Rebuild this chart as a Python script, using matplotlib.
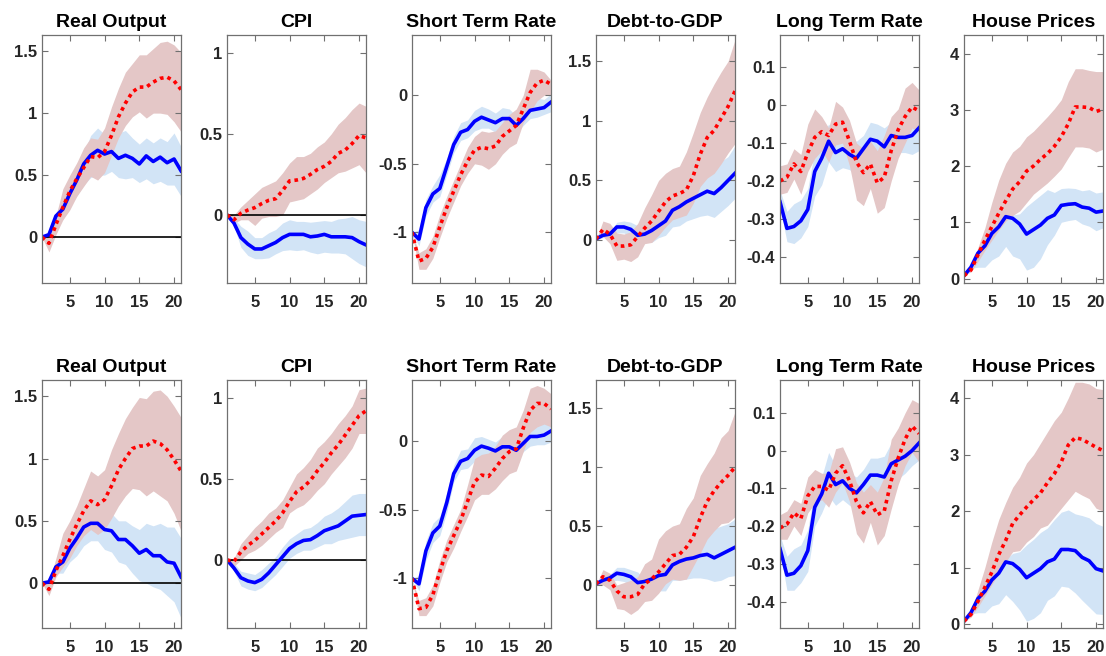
import matplotlib
matplotlib.use("Agg")
import matplotlib.pyplot as plt
from matplotlib.ticker import FormatStrFormatter

plt.rcParams["font.family"] = ["Liberation Sans", "DejaVu Sans"]
plt.rcParams["font.weight"] = "bold"
plt.rcParams["axes.unicode_minus"] = False

HORIZON = list(range(1, 22))
TITLES = ["Real Output", "CPI", "Short Term Rate", "Debt-to-GDP", "Long Term Rate", "House Prices"]

# ---- top row ----
out_a_blue = [0, 0.02, 0.17, 0.225, 0.35, 0.46, 0.59, 0.66, 0.70, 0.67, 0.69, 0.635, 0.66, 0.635, 0.59, 0.655, 0.61, 0.645, 0.60, 0.63, 0.535]
out_a_blue_lo = [0, -0.02, 0.10, 0.14, 0.25, 0.33, 0.42, 0.48, 0.50, 0.50, 0.53, 0.48, 0.47, 0.48, 0.44, 0.47, 0.43, 0.45, 0.42, 0.42, 0.33]
out_a_blue_hi = [0, 0.03, 0.20, 0.29, 0.42, 0.55, 0.68, 0.82, 0.88, 0.83, 0.86, 0.84, 0.86, 0.80, 0.75, 0.80, 0.76, 0.80, 0.77, 0.84, 0.73]
out_a_red = [0, -0.05, 0.10, 0.24, 0.37, 0.47, 0.56, 0.65, 0.64, 0.69, 0.82, 0.97, 1.08, 1.17, 1.21, 1.21, 1.25, 1.28, 1.29, 1.26, 1.19]
out_a_red_lo = [0, -0.12, 0.02, 0.14, 0.22, 0.33, 0.41, 0.49, 0.46, 0.52, 0.66, 0.80, 0.90, 0.97, 1.01, 0.96, 1.00, 1.00, 0.99, 0.93, 0.85]
out_a_red_hi = [0, 0.0, 0.17, 0.39, 0.50, 0.60, 0.72, 0.80, 0.79, 0.88, 1.05, 1.20, 1.33, 1.40, 1.47, 1.47, 1.52, 1.57, 1.58, 1.55, 1.49]

cpi_a_blue = [0, -0.05, -0.14, -0.18, -0.21, -0.21, -0.19, -0.17, -0.14, -0.12, -0.12, -0.12, -0.135, -0.13, -0.12, -0.135, -0.135, -0.135, -0.14, -0.165, -0.185]
cpi_a_blue_lo = [0, -0.07, -0.20, -0.25, -0.27, -0.27, -0.265, -0.24, -0.22, -0.215, -0.22, -0.215, -0.23, -0.24, -0.23, -0.235, -0.235, -0.24, -0.27, -0.30, -0.32]
cpi_a_blue_hi = [0, -0.02, -0.07, -0.10, -0.14, -0.14, -0.11, -0.09, -0.05, -0.03, -0.04, -0.04, -0.045, -0.04, -0.035, -0.04, -0.025, -0.02, -0.01, -0.03, -0.04]
cpi_a_red = [0, -0.03, 0.01, 0.03, 0.045, 0.07, 0.09, 0.10, 0.15, 0.21, 0.215, 0.225, 0.25, 0.28, 0.30, 0.33, 0.38, 0.40, 0.44, 0.49, 0.475]
cpi_a_red_lo = [0, -0.05, -0.03, -0.03, -0.065, -0.02, -0.01, -0.01, 0.0, 0.08, 0.09, 0.10, 0.13, 0.16, 0.20, 0.23, 0.26, 0.27, 0.29, 0.31, 0.26]
cpi_a_red_hi = [0, 0.0, 0.05, 0.09, 0.13, 0.17, 0.19, 0.21, 0.26, 0.32, 0.36, 0.36, 0.38, 0.42, 0.45, 0.50, 0.56, 0.60, 0.65, 0.69, 0.67]

srate_a_blue = [-1.0, -1.05, -0.82, -0.72, -0.68, -0.52, -0.36, -0.27, -0.25, -0.19, -0.16, -0.18, -0.20, -0.17, -0.17, -0.22, -0.17, -0.11, -0.10, -0.09, -0.05]
srate_a_blue_lo = [-1.0, -1.10, -0.88, -0.78, -0.74, -0.58, -0.42, -0.33, -0.31, -0.26, -0.24, -0.24, -0.27, -0.25, -0.24, -0.28, -0.22, -0.17, -0.16, -0.14, -0.12]
srate_a_blue_hi = [-1.0, -0.98, -0.76, -0.66, -0.58, -0.46, -0.30, -0.20, -0.18, -0.11, -0.08, -0.10, -0.13, -0.09, -0.10, -0.15, -0.12, -0.03, -0.02, -0.03, 0.01]
srate_a_red = [-1.0, -1.21, -1.19, -1.11, -0.96, -0.82, -0.70, -0.58, -0.48, -0.40, -0.38, -0.39, -0.37, -0.30, -0.26, -0.22, -0.10, 0.02, 0.09, 0.11, 0.08]
srate_a_red_lo = [-1.0, -1.27, -1.27, -1.19, -1.04, -0.90, -0.78, -0.66, -0.57, -0.50, -0.51, -0.54, -0.50, -0.43, -0.38, -0.35, -0.20, -0.12, -0.04, 0.0, 0.0]
srate_a_red_hi = [-1.0, -1.15, -1.12, -1.03, -0.87, -0.74, -0.62, -0.50, -0.38, -0.30, -0.26, -0.27, -0.26, -0.20, -0.14, -0.10, 0.0, 0.19, 0.19, 0.17, 0.11]

debt_a_blue = [0.01, 0.04, 0.05, 0.11, 0.11, 0.09, 0.04, 0.05, 0.08, 0.12, 0.16, 0.25, 0.28, 0.32, 0.35, 0.38, 0.41, 0.39, 0.44, 0.50, 0.56]
debt_a_blue_lo = [0, 0.02, 0.04, 0.06, 0.06, 0.03, 0.0, -0.02, -0.02, 0.02, 0.04, 0.11, 0.12, 0.16, 0.18, 0.20, 0.21, 0.19, 0.24, 0.29, 0.35]
debt_a_blue_hi = [0, 0.05, 0.06, 0.15, 0.16, 0.15, 0.12, 0.10, 0.18, 0.25, 0.30, 0.35, 0.40, 0.46, 0.51, 0.57, 0.60, 0.58, 0.66, 0.70, 0.79]
debt_a_red = [0.01, 0.09, 0.05, -0.05, -0.05, -0.04, 0.03, 0.10, 0.16, 0.24, 0.32, 0.37, 0.39, 0.42, 0.54, 0.72, 0.86, 0.92, 1.02, 1.12, 1.25]
debt_a_red_lo = [0, 0.03, -0.03, -0.17, -0.16, -0.18, -0.14, -0.03, -0.02, 0.04, 0.11, 0.17, 0.19, 0.21, 0.31, 0.45, 0.52, 0.56, 0.64, 0.73, 0.81]
debt_a_red_hi = [0, 0.16, 0.14, 0.06, 0.05, 0.07, 0.14, 0.27, 0.38, 0.50, 0.56, 0.60, 0.62, 0.74, 0.90, 1.07, 1.20, 1.31, 1.41, 1.50, 1.68]

ltr_a_blue = [-0.255, -0.325, -0.32, -0.305, -0.275, -0.175, -0.14, -0.095, -0.125, -0.115, -0.13, -0.14, -0.115, -0.09, -0.095, -0.11, -0.08, -0.085, -0.085, -0.08, -0.06]
ltr_a_blue_lo = [-0.27, -0.36, -0.365, -0.35, -0.32, -0.24, -0.21, -0.15, -0.175, -0.165, -0.17, -0.185, -0.16, -0.135, -0.125, -0.155, -0.13, -0.125, -0.125, -0.13, -0.12]
ltr_a_blue_hi = [-0.225, -0.28, -0.26, -0.25, -0.22, -0.12, -0.08, -0.05, -0.075, -0.07, -0.09, -0.095, -0.08, -0.045, -0.05, -0.06, -0.045, -0.045, -0.06, -0.055, -0.04]
ltr_a_red = [-0.20, -0.19, -0.155, -0.175, -0.125, -0.085, -0.07, -0.08, -0.05, -0.045, -0.095, -0.15, -0.178, -0.155, -0.205, -0.19, -0.12, -0.065, -0.03, -0.005, -0.015]
ltr_a_red_lo = [-0.235, -0.23, -0.195, -0.235, -0.175, -0.14, -0.12, -0.15, -0.105, -0.10, -0.16, -0.25, -0.265, -0.22, -0.285, -0.27, -0.20, -0.14, -0.10, -0.06, -0.07]
ltr_a_red_hi = [-0.16, -0.155, -0.115, -0.13, -0.05, -0.01, -0.03, -0.06, 0.01, -0.005, -0.04, -0.10, -0.115, -0.095, -0.12, -0.08, -0.03, -0.01, 0.045, 0.06, 0.04]

hp_a_blue = [0.05, 0.2, 0.45, 0.58, 0.8, 0.92, 1.1, 1.07, 0.97, 0.79, 0.87, 0.95, 1.07, 1.13, 1.30, 1.32, 1.33, 1.27, 1.25, 1.18, 1.2]
hp_a_blue_lo = [0.05, 0.18, 0.2, 0.2, 0.33, 0.4, 0.57, 0.4, 0.35, 0.15, 0.2, 0.35, 0.6, 0.77, 1.0, 1.03, 1.05, 0.97, 0.93, 0.85, 0.9]
hp_a_blue_hi = [0.05, 0.2, 0.5, 0.65, 0.85, 1.0, 1.15, 1.13, 1.15, 1.28, 1.38, 1.48, 1.58, 1.53, 1.6, 1.61, 1.6, 1.56, 1.58, 1.52, 1.54]
hp_a_red = [0.05, 0.15, 0.42, 0.68, 0.92, 1.16, 1.38, 1.59, 1.72, 1.91, 2.0, 2.12, 2.22, 2.35, 2.52, 2.75, 3.05, 3.05, 3.04, 2.97, 3.01]
hp_a_red_lo = [0.05, 0.12, 0.3, 0.5, 0.68, 0.86, 1.02, 1.12, 1.2, 1.35, 1.5, 1.6, 1.7, 1.82, 1.95, 2.15, 2.34, 2.34, 2.32, 2.25, 2.3]
hp_a_red_hi = [0.05, 0.2, 0.55, 0.9, 1.35, 1.75, 2.05, 2.25, 2.35, 2.52, 2.62, 2.75, 2.88, 3.02, 3.18, 3.5, 3.73, 3.73, 3.7, 3.68, 3.68]

# ---- bottom row ----
out_b_blue = [0, 0.01, 0.13, 0.17, 0.28, 0.36, 0.45, 0.48, 0.48, 0.43, 0.42, 0.35, 0.35, 0.30, 0.24, 0.27, 0.22, 0.22, 0.17, 0.16, 0.05]
out_b_blue_lo = [0, -0.01, 0.08, 0.08, 0.17, 0.22, 0.30, 0.34, 0.34, 0.27, 0.25, 0.17, 0.15, 0.08, 0.02, 0.0, -0.03, -0.05, -0.10, -0.15, -0.28]
out_b_blue_hi = [0, 0.02, 0.16, 0.24, 0.36, 0.44, 0.52, 0.57, 0.57, 0.53, 0.56, 0.50, 0.50, 0.46, 0.43, 0.48, 0.46, 0.48, 0.45, 0.45, 0.36]
out_b_red = [0, -0.05, 0.10, 0.22, 0.35, 0.47, 0.58, 0.66, 0.63, 0.67, 0.78, 0.91, 1.0, 1.08, 1.10, 1.10, 1.14, 1.12, 1.07, 0.99, 0.90]
out_b_red_lo = [0, -0.10, 0.05, 0.13, 0.20, 0.30, 0.38, 0.43, 0.39, 0.43, 0.52, 0.62, 0.70, 0.76, 0.75, 0.70, 0.74, 0.70, 0.66, 0.56, 0.42]
out_b_red_hi = [0, 0.0, 0.20, 0.40, 0.50, 0.62, 0.76, 0.90, 0.86, 0.91, 1.07, 1.20, 1.32, 1.41, 1.49, 1.48, 1.54, 1.55, 1.50, 1.42, 1.33]

cpi_b_blue = [0, -0.05, -0.11, -0.13, -0.14, -0.12, -0.08, -0.03, 0.02, 0.07, 0.10, 0.12, 0.125, 0.15, 0.18, 0.195, 0.21, 0.24, 0.27, 0.275, 0.28]
cpi_b_blue_lo = [0, -0.07, -0.16, -0.18, -0.19, -0.17, -0.13, -0.09, -0.04, 0.01, 0.04, 0.06, 0.06, 0.08, 0.10, 0.10, 0.12, 0.13, 0.14, 0.15, 0.15]
cpi_b_blue_hi = [0, -0.02, -0.07, -0.08, -0.09, -0.06, -0.02, 0.02, 0.08, 0.13, 0.16, 0.19, 0.20, 0.23, 0.27, 0.29, 0.32, 0.36, 0.40, 0.41, 0.41]
cpi_b_red = [0, -0.01, 0.05, 0.09, 0.12, 0.16, 0.20, 0.24, 0.29, 0.36, 0.42, 0.45, 0.49, 0.55, 0.60, 0.66, 0.71, 0.77, 0.83, 0.89, 0.92]
cpi_b_red_lo = [0, -0.04, 0.0, 0.04, 0.06, 0.09, 0.13, 0.17, 0.20, 0.29, 0.32, 0.34, 0.38, 0.43, 0.47, 0.53, 0.58, 0.63, 0.69, 0.78, 0.78]
cpi_b_red_hi = [0, 0.01, 0.10, 0.15, 0.20, 0.24, 0.29, 0.32, 0.37, 0.45, 0.53, 0.57, 0.62, 0.69, 0.73, 0.78, 0.84, 0.89, 0.95, 1.05, 1.06]

srate_b_blue = [-1.0, -1.04, -0.80, -0.67, -0.62, -0.45, -0.24, -0.15, -0.13, -0.07, -0.04, -0.055, -0.075, -0.045, -0.045, -0.07, -0.02, 0.03, 0.03, 0.04, 0.07]
srate_b_blue_lo = [-1.0, -1.09, -0.87, -0.74, -0.69, -0.52, -0.30, -0.21, -0.20, -0.15, -0.12, -0.12, -0.15, -0.12, -0.11, -0.14, -0.08, -0.04, -0.03, -0.03, -0.01]
srate_b_blue_hi = [-1.0, -0.98, -0.73, -0.60, -0.55, -0.38, -0.18, -0.07, -0.06, 0.02, 0.03, 0.01, -0.01, 0.03, 0.01, -0.02, 0.05, 0.12, 0.12, 0.15, 0.14]
srate_b_red = [-1.0, -1.22, -1.21, -1.12, -0.95, -0.80, -0.69, -0.58, -0.44, -0.30, -0.25, -0.26, -0.20, -0.13, -0.08, -0.06, 0.09, 0.22, 0.27, 0.27, 0.23]
srate_b_red_lo = [-1.0, -1.27, -1.27, -1.20, -1.03, -0.88, -0.78, -0.66, -0.55, -0.43, -0.39, -0.39, -0.35, -0.29, -0.24, -0.22, -0.08, 0.06, 0.10, 0.12, 0.10]
srate_b_red_hi = [-1.0, -1.16, -1.14, -1.05, -0.87, -0.72, -0.61, -0.50, -0.32, -0.13, -0.10, -0.09, -0.04, 0.04, 0.08, 0.10, 0.22, 0.38, 0.40, 0.38, 0.34]

debt_b_blue = [0.01, 0.04, 0.06, 0.10, 0.09, 0.07, 0.02, 0.03, 0.05, 0.08, 0.09, 0.17, 0.20, 0.22, 0.23, 0.25, 0.26, 0.23, 0.26, 0.29, 0.32]
debt_b_blue_lo = [0, 0.02, 0.03, 0.04, 0.03, 0.0, -0.02, -0.02, -0.02, -0.05, -0.05, 0.04, 0.04, 0.05, 0.06, 0.06, 0.05, 0.03, 0.04, 0.07, 0.08]
debt_b_blue_hi = [0, 0.05, 0.09, 0.15, 0.15, 0.13, 0.11, 0.05, 0.10, 0.15, 0.18, 0.25, 0.30, 0.32, 0.39, 0.46, 0.47, 0.48, 0.50, 0.52, 0.56]
debt_b_red = [0.01, 0.07, 0.04, -0.05, -0.10, -0.10, -0.08, 0.01, 0.05, 0.11, 0.18, 0.25, 0.26, 0.32, 0.41, 0.57, 0.71, 0.80, 0.87, 0.93, 1.0]
debt_b_red_lo = [0, 0.0, -0.04, -0.20, -0.21, -0.25, -0.21, -0.14, -0.13, -0.07, 0.01, 0.05, 0.04, 0.05, 0.16, 0.27, 0.39, 0.46, 0.52, 0.53, 0.58]
debt_b_red_hi = [0, 0.13, 0.10, 0.0, 0.02, 0.04, 0.07, 0.18, 0.22, 0.39, 0.46, 0.50, 0.52, 0.65, 0.74, 0.93, 1.03, 1.12, 1.25, 1.31, 1.47]

ltr_b_blue = [-0.26, -0.33, -0.325, -0.305, -0.265, -0.15, -0.115, -0.06, -0.09, -0.08, -0.10, -0.112, -0.09, -0.065, -0.065, -0.07, -0.035, -0.025, -0.015, 0.0, 0.02]
ltr_b_blue_lo = [-0.27, -0.37, -0.37, -0.35, -0.32, -0.20, -0.165, -0.12, -0.145, -0.13, -0.145, -0.16, -0.135, -0.11, -0.115, -0.125, -0.095, -0.075, -0.06, -0.04, -0.025]
ltr_b_blue_hi = [-0.225, -0.28, -0.26, -0.25, -0.21, -0.10, -0.07, -0.005, -0.04, -0.04, -0.06, -0.07, -0.05, -0.02, -0.02, -0.015, 0.02, 0.03, 0.045, 0.06, 0.09]
ltr_b_red = [-0.205, -0.195, -0.165, -0.18, -0.12, -0.095, -0.095, -0.105, -0.06, -0.04, -0.08, -0.135, -0.165, -0.135, -0.17, -0.16, -0.08, -0.02, 0.03, 0.065, 0.045]
ltr_b_red_lo = [-0.235, -0.235, -0.20, -0.225, -0.165, -0.14, -0.13, -0.15, -0.11, -0.085, -0.135, -0.22, -0.245, -0.19, -0.25, -0.225, -0.155, -0.09, -0.04, -0.005, -0.03]
ltr_b_red_hi = [-0.17, -0.16, -0.13, -0.14, -0.07, -0.05, -0.06, -0.06, 0.005, 0.01, -0.03, -0.085, -0.11, -0.09, -0.11, -0.07, 0.03, 0.06, 0.10, 0.135, 0.125]

hp_b_blue = [0.05, 0.2, 0.45, 0.58, 0.78, 0.9, 1.1, 1.07, 0.97, 0.82, 0.9, 0.98, 1.1, 1.15, 1.32, 1.32, 1.3, 1.18, 1.12, 0.98, 0.94]
hp_b_blue_lo = [0.05, 0.18, 0.2, 0.2, 0.32, 0.36, 0.52, 0.4, 0.25, 0.05, 0.1, 0.2, 0.42, 0.5, 0.67, 0.65, 0.55, 0.42, 0.3, 0.18, 0.17]
hp_b_blue_hi = [0.05, 0.2, 0.5, 0.65, 0.85, 1.0, 1.15, 1.25, 1.28, 1.4, 1.5, 1.62, 1.7, 1.85, 1.98, 2.02, 1.95, 1.92, 1.88, 1.78, 1.73]
hp_b_red = [0.05, 0.17, 0.4, 0.65, 0.92, 1.23, 1.48, 1.78, 1.93, 2.07, 2.2, 2.32, 2.5, 2.66, 2.87, 3.17, 3.3, 3.27, 3.2, 3.13, 3.07]
hp_b_red_lo = [0.05, 0.12, 0.3, 0.5, 0.7, 0.9, 1.1, 1.28, 1.3, 1.45, 1.55, 1.7, 1.75, 1.9, 2.05, 2.2, 2.35, 2.28, 2.22, 2.05, 2.0]
hp_b_red_hi = [0.05, 0.2, 0.6, 1.0, 1.45, 1.85, 2.15, 2.42, 2.6, 2.85, 3.0, 3.2, 3.4, 3.6, 3.75, 4.0, 4.28, 4.28, 4.25, 4.17, 4.15]

YTICKS = [[0, 0.5, 1, 1.5], [0, 0.5, 1], [-1, -0.5, 0], [0, 0.5, 1, 1.5],
          [-0.4, -0.3, -0.2, -0.1, 0, 0.1], [0, 1, 2, 3, 4]]
YLIMS_A = [(-0.37, 1.63), (-0.42, 1.11), (-1.37, 0.44), (-0.36, 1.72), (-0.469, 0.185), (-0.08, 4.33)]
YLIMS_B = [(-0.36, 1.63), (-0.42, 1.11), (-1.36, 0.44), (-0.365, 1.74), (-0.47, 0.187), (-0.07, 4.32)]

BLUE_BAND = "#d2e4f6"
RED_BAND = "#e4c7c7"
SPINE = "#707070"

rows = [
    (YLIMS_A, [
        (out_a_blue, out_a_blue_lo, out_a_blue_hi, out_a_red, out_a_red_lo, out_a_red_hi),
        (cpi_a_blue, cpi_a_blue_lo, cpi_a_blue_hi, cpi_a_red, cpi_a_red_lo, cpi_a_red_hi),
        (srate_a_blue, srate_a_blue_lo, srate_a_blue_hi, srate_a_red, srate_a_red_lo, srate_a_red_hi),
        (debt_a_blue, debt_a_blue_lo, debt_a_blue_hi, debt_a_red, debt_a_red_lo, debt_a_red_hi),
        (ltr_a_blue, ltr_a_blue_lo, ltr_a_blue_hi, ltr_a_red, ltr_a_red_lo, ltr_a_red_hi),
        (hp_a_blue, hp_a_blue_lo, hp_a_blue_hi, hp_a_red, hp_a_red_lo, hp_a_red_hi),
    ]),
    (YLIMS_B, [
        (out_b_blue, out_b_blue_lo, out_b_blue_hi, out_b_red, out_b_red_lo, out_b_red_hi),
        (cpi_b_blue, cpi_b_blue_lo, cpi_b_blue_hi, cpi_b_red, cpi_b_red_lo, cpi_b_red_hi),
        (srate_b_blue, srate_b_blue_lo, srate_b_blue_hi, srate_b_red, srate_b_red_lo, srate_b_red_hi),
        (debt_b_blue, debt_b_blue_lo, debt_b_blue_hi, debt_b_red, debt_b_red_lo, debt_b_red_hi),
        (ltr_b_blue, ltr_b_blue_lo, ltr_b_blue_hi, ltr_b_red, ltr_b_red_lo, ltr_b_red_hi),
        (hp_b_blue, hp_b_blue_lo, hp_b_blue_hi, hp_b_red, hp_b_red_lo, hp_b_red_hi),
    ]),
]

W, H = 1106, 656
fig = plt.figure(figsize=(W / 100, H / 100), dpi=100)
lefts = [42, 227, 412, 596, 780, 964]
tops = [35, 380]
aw, ah = 139, 248

for r, (ylims, panels) in enumerate(rows):
    for c, (b, b_lo, b_hi, rd, r_lo, r_hi) in enumerate(panels):
        ax = fig.add_axes([lefts[c] / W, (H - tops[r] - ah) / H, aw / W, ah / H])
        ax.fill_between(HORIZON, b_lo, b_hi, color=BLUE_BAND, lw=0)
        ax.fill_between(HORIZON, r_lo, r_hi, color=RED_BAND, lw=0)
        if c < 2:
            ax.axhline(0, color="black", lw=1.2)
        ax.plot(HORIZON, b, color="#0000ff", lw=2.6)
        ax.plot(HORIZON, rd, color="#ff0000", lw=2.6, dashes=(1, 1.1))
        ax.set_xlim(1, 21)
        ax.set_ylim(*ylims[c])
        ax.set_xticks([5, 10, 15, 20])
        ax.set_yticks(YTICKS[c])
        ax.yaxis.set_major_formatter(FormatStrFormatter("%g"))
        ax.set_title(TITLES[c], fontsize=14, fontweight="bold", pad=5.5)
        ax.tick_params(direction="in", length=4, width=0.8, color=SPINE,
                       labelcolor="#262626", labelsize=12, top=True, right=True)
        ax.tick_params(axis="x", pad=8.5)
        ax.tick_params(axis="y", pad=3.5)
        for s in ax.spines.values():
            s.set_color(SPINE)
            s.set_linewidth(0.9)

fig.savefig("out.png", dpi=100, facecolor="white")
